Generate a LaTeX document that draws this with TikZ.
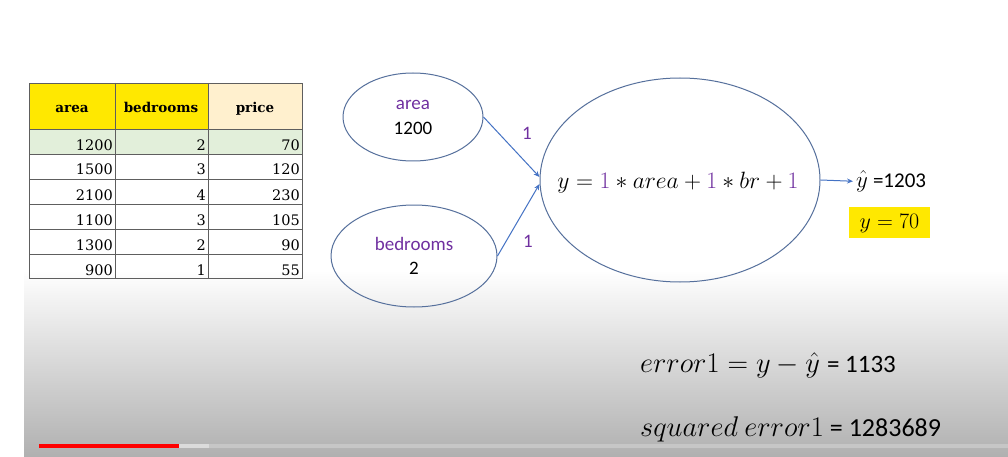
\RequirePackage{fix-cm}
\documentclass[tikz,border=0pt]{standalone}
\usepackage{fontspec}
\setmainfont{Carlito}
\newfontfamily\tabfont{DejaVu Serif}
\usetikzlibrary{arrows.meta,shapes.geometric}
\definecolor{purp}{HTML}{7030A0}
\definecolor{arrblue}{HTML}{4472C4}
\definecolor{ellline}{HTML}{56709C}
\definecolor{hdryellow}{HTML}{FFE800}
\definecolor{hdrorange}{HTML}{FFF0CE}
\definecolor{rowgreen}{HTML}{E2EFDA}
\definecolor{gridgray}{HTML}{5E5E5E}
\definecolor{bgbottom}{HTML}{B0B0B0}
\tikzset{
  ell/.style={draw=ellline, line width=1pt, ellipse, inner sep=0pt},
  conn/.style={draw=arrblue, line width=1pt, -{Stealth[length=6pt,width=5pt]}},
  tnum/.style={font=\tabfont\fontsize{14.5}{16}\selectfont, anchor=base east, inner sep=0pt},
  thdr/.style={font=\tabfont\bfseries\fontsize{13.5}{16}\selectfont, anchor=base, inner sep=0pt},
  elab/.style={font=\fontsize{19}{22}\selectfont, anchor=base, inner sep=0pt},
  wlab/.style={font=\fontsize{19}{22}\selectfont, text=purp, inner sep=0pt},
}
\begin{document}
\begin{tikzpicture}[x=1pt,y=-1pt]
\useasboundingbox (0,0) rectangle (1008,457);
\fill[white] (0,0) rectangle (1008,457);
\shade[top color=white, bottom color=bgbottom] (24,270) rectangle (1008,457);
% progress bar
\fill[gray!45] (209,444) rectangle (1008,448);
\fill[gray!28] (179,444) rectangle (209,448);
\fill[red] (39,444) rectangle (179,448);

% table fills
\fill[hdryellow] (29,83) rectangle (208,129);
\fill[hdrorange] (208,83) rectangle (302,129);
\fill[rowgreen] (29,129) rectangle (302,154);
% table grid
\draw[gridgray, line width=0.9pt] (29,83) rectangle (302,278);
\foreach \yy in {129,154,179,204,229,254} \draw[gridgray, line width=0.9pt] (29,\yy) -- (302,\yy);
\foreach \xx in {115,208} \draw[gridgray, line width=0.9pt] (\xx,83) -- (\xx,278);
% header text
\node[thdr] (h1) at (72,113) {area};
\node[thdr] (h2) at (161,113) {bedrooms};
\node[thdr] (h3) at (255,113) {price};
% data
\foreach \r [count=\i] in {1200,1500,2100,1100,1300,900}{
  \node[tnum] (a\i) at (113,{125+25*\i}) {\r};
}
\foreach \b [count=\i] in {2,3,4,3,2,1}{
  \node[tnum] (b\i) at (206,{125+25*\i}) {\b};
}
\foreach \p [count=\i] in {70,120,230,105,90,55}{
  \node[tnum] (p\i) at (300,{125+25*\i}) {\p};
}

% ellipses
\node[ell, minimum width=140, minimum height=88] (area) at (413,117) {};
\node[elab, text=purp] (areat) at (413,110) {area};
\node[elab] (areav) at (413,135) {1200};
\node[ell, minimum width=166, minimum height=102] (bed) at (414,256) {};
\node[elab, text=purp] (bedt) at (414,250) {bedrooms};
\node[elab] (bedv) at (414,274) {2};
\node[ell, minimum width=280, minimum height=204] (big) at (680,180) {};
\node[inner sep=0pt, anchor=base] (eq) at (678,189)
  {\fontsize{23.6}{28}\selectfont $y = {\color{purp}1} \ast area + {\color{purp}1} \ast br + {\color{purp}1}$};

% connectors
\draw[conn] (area.east) -- ([yshift=3pt]big.west);
\draw[conn] (bed.east) -- ([yshift=-4pt]big.west);
\node[wlab] (w1) at (527,133) {1};
\node[wlab] (w2) at (528,241) {1};

% output
\node[inner sep=0pt, anchor=base west] (yhat) at (856,187)
  {\fontsize{23}{24}\selectfont $\hat{y}$\fontsize{21}{24}\selectfont\hspace{5pt}=1203};
\draw[conn] (big.east) -- ([xshift=-3pt]yhat.west);
\node[fill=hdryellow, minimum width=81, minimum height=31, inner sep=0pt] (ybox) at (889.5,222.5) {};
\node[inner sep=0pt, anchor=base] (yv) at (889.5,228)
  {\fontsize{22}{24}\selectfont $y = 70$};

% bottom formulas
\node[inner sep=0pt, anchor=base west] (err) at (640,372)
  {\fontsize{28.5}{32}\selectfont $error1 = y - \hat{y}$\fontsize{25}{30}\selectfont\hspace{7pt}= 1133};
\node[inner sep=0pt, anchor=base west] (sq) at (640,436)
  {\fontsize{28.5}{32}\selectfont $squared\ error1$\fontsize{26}{30}\selectfont\hspace{6pt}= 1283689};
\end{tikzpicture}
\end{document}
